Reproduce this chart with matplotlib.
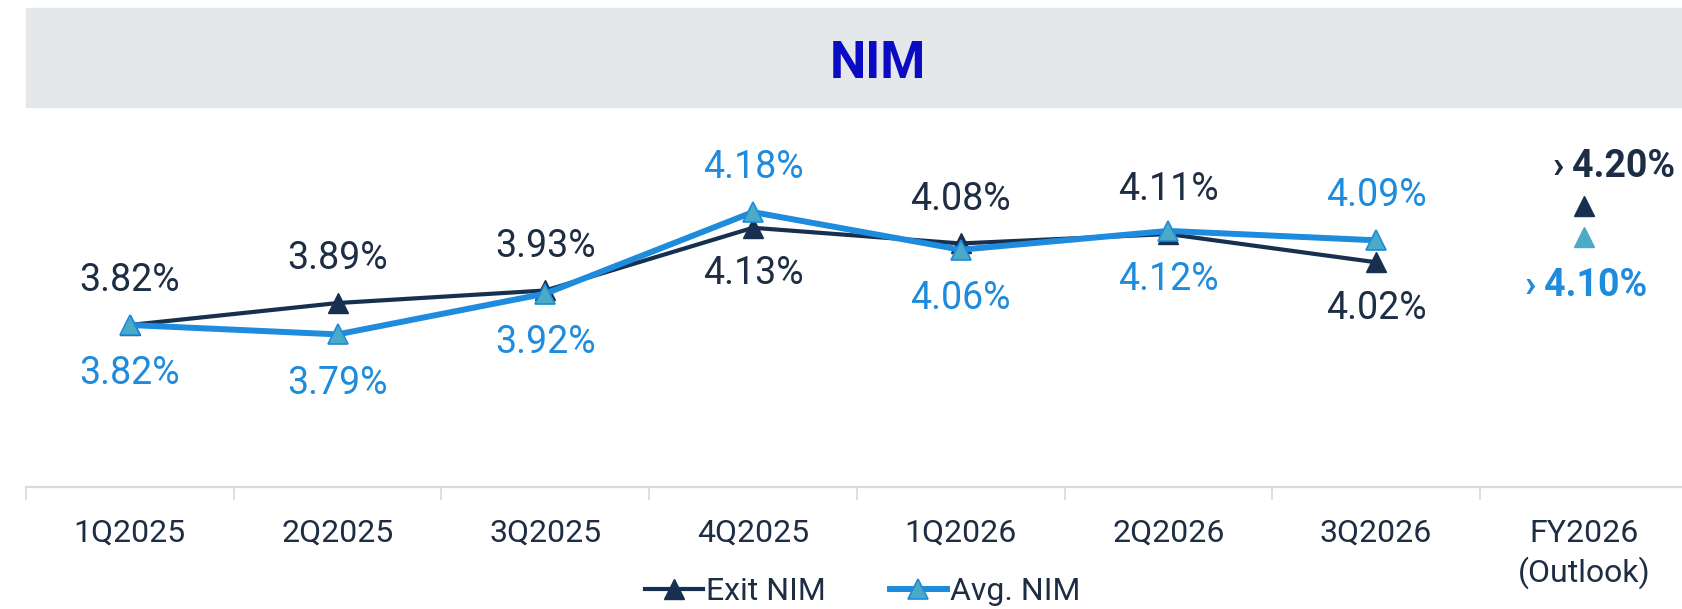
import matplotlib.pyplot as plt
from matplotlib.lines import Line2D
from matplotlib.patches import Rectangle

categories = ["1Q2025", "2Q2025", "3Q2025", "4Q2025", "1Q2026", "2Q2026", "3Q2026", "FY2026\n(Outlook)"]
exit_nim = [3.82, 3.89, 3.93, 4.13, 4.08, 4.11, 4.02]
avg_nim = [3.82, 3.79, 3.92, 4.18, 4.06, 4.12, 4.09]
exit_above = [True, True, True, False, True, True, False]
avg_above = [False, False, False, True, False, False, True]
outlook_exit = 4.20
outlook_avg = 4.10

NAVY = "#17304F"
NAVY_TXT = "#1D2D44"
BLUE = "#1E8BDC"
TEAL = "#4BAAC6"
FONT = ["Roboto", "DejaVu Sans"]

plt.rcParams["font.family"] = FONT

W, H = 1682, 609
fig = plt.figure(figsize=(W / 100, H / 100), dpi=100)

# header band
fig.patches.append(Rectangle((26 / W, 1 - 107 / H), 1 - 26 / W, 99 / H,
                             transform=fig.transFigure, color="#E4E8EB", zorder=0))
fig.text(878 / W, 1 - 64 / H, "NIM", ha="center", va="center", fontsize=37,
         fontweight="bold", color="#0B0BC4")

ax = fig.add_axes([26 / W, 1 - 487 / H, 1661.6 / W, 380 / H])
ax.set_xlim(-0.5, len(categories) - 0.5)
ax.set_ylim(3.3034, 4.5151)
ax.patch.set_alpha(0)

xs = list(range(len(exit_nim)))
ax.plot(xs, exit_nim, color=NAVY, lw=3.0, marker="^", ms=14, mfc=NAVY, mec=NAVY, zorder=3)
ax.plot(xs, avg_nim, color=BLUE, lw=4.3, marker="^", ms=14, mfc=TEAL, mec=BLUE, mew=1.2, zorder=4)

for x, v, up in zip(xs, exit_nim, exit_above):
    ax.annotate(f"{v:.2f}%", (x, v), xytext=(0, 32 if up else -33), textcoords="offset points",
                ha="center", va="center", fontsize=27, color=NAVY_TXT)
for x, v, up in zip(xs, avg_nim, avg_above):
    ax.annotate(f"{v:.2f}%", (x, v), xytext=(0, 32 if up else -35), textcoords="offset points",
                ha="center", va="center", fontsize=27, color=BLUE)

# outlook column
ox = len(categories) - 1
ax.plot([ox], [outlook_exit], ls="none", marker="^", ms=14, color=NAVY, zorder=3)
ax.plot([ox], [outlook_avg], ls="none", marker="^", ms=14, color=TEAL, zorder=3)
ax.annotate(f"\u203a\u2009{outlook_exit:.2f}%", (ox, outlook_exit), xytext=(22, 28), textcoords="offset points",
            ha="center", va="center", fontsize=27, fontweight="bold", color=NAVY_TXT)
ax.annotate(f"\u203a\u2009{outlook_avg:.2f}%", (ox, outlook_avg), xytext=(2, -35), textcoords="offset points",
            ha="center", va="center", fontsize=27, fontweight="bold", color=BLUE)

for s in ["top", "left", "right"]:
    ax.spines[s].set_visible(False)
ax.spines["bottom"].set_color("#D9D9D9")
ax.spines["bottom"].set_linewidth(1.6)
ax.set_yticks([])
ax.set_xticks(range(len(categories)))
ax.set_xticklabels(categories, fontsize=23, color=NAVY_TXT, linespacing=1.35)
ax.tick_params(axis="x", which="major", length=0, pad=23)
ax.set_xticks([i - 0.5 for i in range(len(categories) + 1)], minor=True)
ax.tick_params(axis="x", which="minor", length=9, width=1.2, color="#D9D9D9")
for lbl in ax.get_xticklabels():
    lbl.set_verticalalignment("top")

handles = [
    Line2D([], [], color=NAVY, lw=3.0, marker="^", ms=14, mfc=NAVY, mec=NAVY),
    Line2D([], [], color=BLUE, lw=4.3, marker="^", ms=14, mfc=TEAL, mec=BLUE, mew=1.2),
]
fig.legend(handles, ["Exit NIM", "Avg. NIM"], loc="center", bbox_to_anchor=(863 / W, 1 - 592 / H),
           ncol=2, frameon=False, fontsize=23, handlelength=1.8, handletextpad=0.1,
           columnspacing=2.0, labelcolor=NAVY_TXT, borderpad=0)

fig.savefig("out.png", dpi=100)
